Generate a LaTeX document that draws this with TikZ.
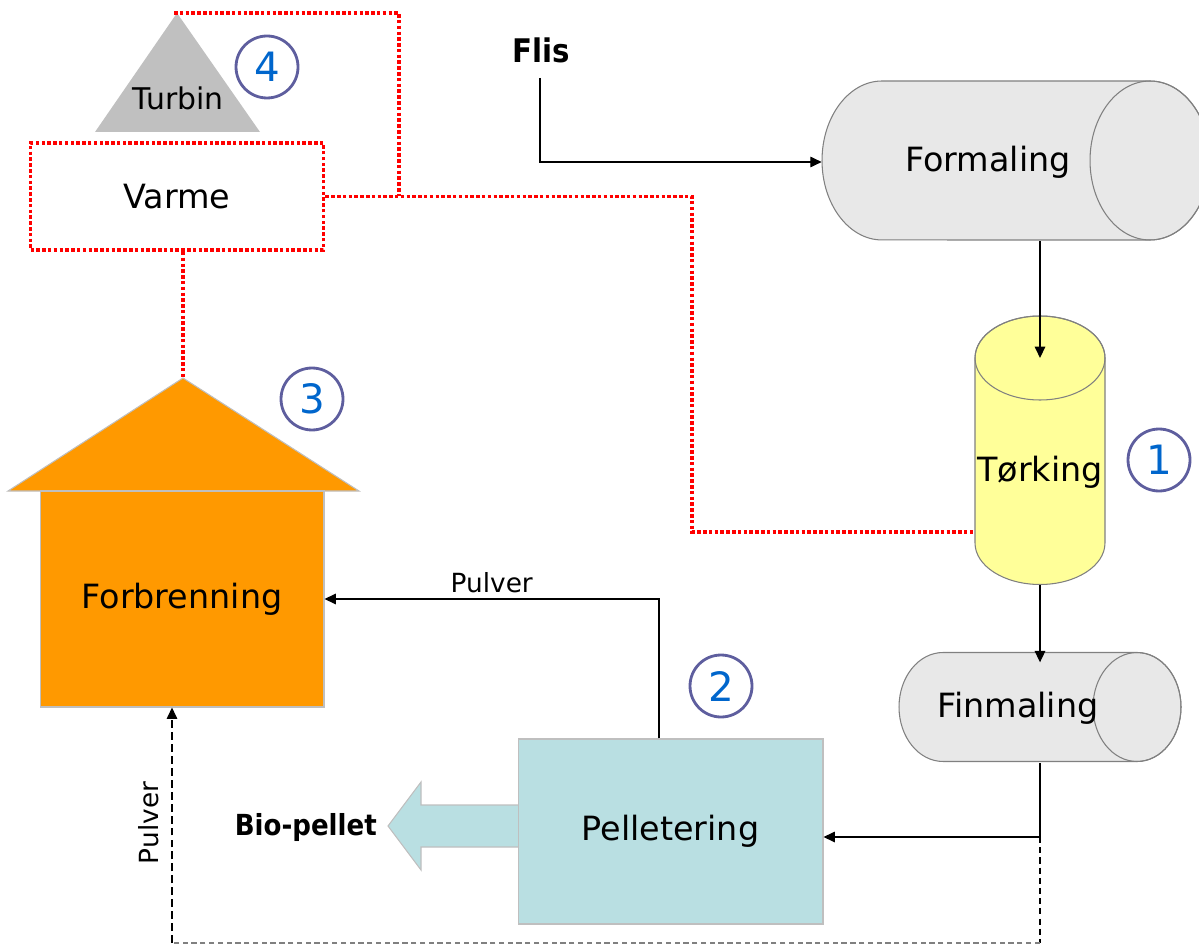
\documentclass[tikz,border=0pt]{standalone}
\usepackage{fontspec}
\setmainfont{DejaVu Sans}
\newfontfamily\narrowsans[FakeStretch=0.9]{DejaVu Sans}
\usetikzlibrary{calc,arrows.meta}

\definecolor{ovn}{HTML}{FF9900}
\definecolor{pelletblue}{HTML}{B9DFE2}
\definecolor{tankyellow}{HTML}{FFFF99}
\definecolor{drumfill}{HTML}{E8E8E8}
\definecolor{drumline}{HTML}{808080}
\definecolor{edgegray}{HTML}{BFBFBF}
\definecolor{turbgray}{HTML}{C0C0C0}
\definecolor{numring}{HTML}{5E5E9E}
\definecolor{numblue}{HTML}{0066CC}

\begin{document}
\begin{tikzpicture}[x=0.02cm,y=-0.02cm,
  proc/.style={inner sep=0pt, font=\fontsize{19}{22}\selectfont},
  flow/.style={line width=0.8pt, -{Triangle[length=6.5pt,width=6pt]}},
  heat/.style={draw=red, line width=2.2pt, dash pattern=on 2pt off 1.3pt},
  drum/.style={fill=drumfill, draw=drumline, line width=0.6pt},
  tank/.style={fill=tankyellow, draw=drumline, line width=0.6pt},
  num/.style={circle, draw=numring, line width=1.6pt, minimum size=1.24cm, inner sep=0pt, text=numblue, font=\fontsize{23}{26}\selectfont},
  tag/.style={font=\fontsize{15}{18}\selectfont},
  boldtag/.style={font=\narrowsans\bfseries\fontsize{18.5}{20}\selectfont}]
\useasboundingbox (0,0) rectangle (1199,945);
% Turbin og varme
\fill[turbgray] (177,13) -- (260,132) -- (95,132) -- cycle;
\coordinate (turbtop) at (174,13);
\node[font=\fontsize{17}{20}\selectfont] (turbin) at (178,98) {Turbin};
\node[proc, heat, minimum width=5.86cm, minimum height=2.14cm] (varme) at (177,196.5) {Varme};
\coordinate (junc) at (399,196.5);
\coordinate (roof) at (183,378);

% Forbrenning
\filldraw[fill=ovn, draw=edgegray, line width=0.6pt] (8,491) -- (roof) -- (359,491) -- cycle;
\node[proc, fill=ovn, draw=edgegray, line width=0.6pt, minimum width=5.68cm, minimum height=4.32cm] (forbr) at (182,599) {Forbrenning};

% Formaling, torking, finmaling
\filldraw[drum] (1150,81) -- (882,81) arc[start angle=90, end angle=270, x radius=1.2cm, y radius=1.59cm]
  -- (1150,240) arc[start angle=-90, end angle=90, x radius=1.2cm, y radius=1.59cm] -- cycle;
\draw[drum, fill=none] (1150,160.5) ellipse[x radius=1.2cm, y radius=1.59cm];
\node[proc, minimum width=6.64cm, minimum height=3.16cm] (formaling) at (988,162) {Formaling};

\filldraw[tank] (975,358) -- (975,543) arc[start angle=180, end angle=360, x radius=1.3cm, y radius=0.83cm]
  -- (1105,358) arc[start angle=0, end angle=180, x radius=1.3cm, y radius=0.84cm] -- cycle;
\draw[tank, fill=none] (1040,358) ellipse[x radius=1.3cm, y radius=0.84cm];
\node[proc, minimum width=2.6cm, minimum height=4.52cm] (torking) at (1040,472) {Tørking};

\filldraw[drum] (1137,652.5) -- (943,652.5) arc[start angle=90, end angle=270, x radius=0.88cm, y radius=1.09cm]
  -- (1137,761.5) arc[start angle=-90, end angle=90, x radius=0.88cm, y radius=1.09cm] -- cycle;
\draw[drum, fill=none] (1137,707) ellipse[x radius=0.88cm, y radius=1.09cm];
\node[proc, minimum width=4.8cm, minimum height=2.18cm] (finm) at (1018,708) {Finmaling};

% Pelletering
\filldraw[fill=pelletblue, draw=edgegray, line width=0.6pt] (519,805) -- (421,805) -- (421,782) -- (388,826)
  -- (421,870) -- (421,847) -- (519,847);
\node[proc, fill=pelletblue, draw=edgegray, line width=0.6pt, minimum width=6.1cm, minimum height=3.7cm] (pellet) at (670.5,831.5) {Pelletering};
\node[boldtag, font=\narrowsans\bfseries\fontsize{16.5}{19}\selectfont, anchor=east] (bio) at (383,827) {Bio-pellet};

% numre
\node[num] (n4) at (267,67) {4};
\node[num] (n3) at (312,399) {3};
\node[num] (n2) at (721,686) {2};
\node[num] (n1) at (1159,460) {1};

\node[boldtag] (flis) at (541,50) {Flis};
\coordinate (flisfoot) at (540,78);

% varmekrets
\draw[heat] (turbtop) -| (junc);
\draw[heat] (varme.east) -- (junc) -- (692,196.5) |- ([yshift=-1.2cm]torking.west);
\draw[heat] (varme.south -| roof) -- (roof);

% strom
\draw[flow] (flisfoot) |- (formaling.west);
\draw[flow] (formaling.south -| torking) -- (1040,358);
\draw[flow] (torking.south) -- ++(0,77);
\coordinate (split) at (1040,837);
\draw[flow] (finm.south -| split) -- (split) -- (split -| pellet.east);
\draw[flow] ([xshift=-0.23cm]pellet.north) |- node[tag, pos=0.75, above] (pulvera) {Pulver} (forbr.east);

% retur
\coordinate (corner) at (1040,943);
\coordinate (retur) at (172,943);
\draw[line width=1.1pt, dash pattern=on 3.5pt off 2.3pt] (split) -- (corner);
\draw[gray, line width=0.6pt, dash pattern=on 3pt off 2pt] (corner) -- (retur);
\draw[line width=0.7pt, dash pattern=on 4.5pt off 2.3pt, -{Triangle[length=6.5pt,width=6pt]}] (retur) -- (retur |- forbr.south);
\node[tag, rotate=90] (pulverb) at (149,823) {Pulver};
\end{tikzpicture}
\end{document}
